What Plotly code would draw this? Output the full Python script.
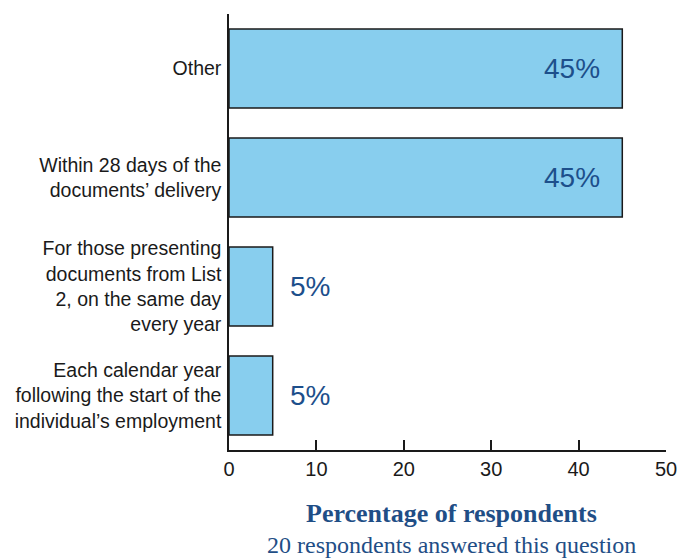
import plotly.graph_objects as go

# Survey responses: timing of repeat right-to-work checks
categories = [
    "Each calendar year<br>following the start of the<br>individual\u2019s employment",
    "For those presenting<br>documents from List<br>2, on the same day<br>every year",
    "Within 28 days of the<br>documents\u2019 delivery",
    "Other",
]
percentages = [5, 5, 45, 45]
x_ticks = [0, 10, 20, 30, 40, 50]

BAR_FILL = "#88CEEE"
LABEL_BLUE = "#1D4F8B"
TITLE_BLUE = "#1F4E86"
SANS = "Liberation Sans, Arial, sans-serif"
SERIF = "Liberation Serif, Times New Roman, serif"

fig = go.Figure()
fig.add_trace(go.Bar(
    x=percentages,
    y=categories,
    orientation="h",
    width=0.725,
    marker=dict(color=BAR_FILL, line=dict(color="#1a1a1a", width=1.5)),
    hoverinfo="skip",
))

# Value labels: inside the bar end for long bars, just past it for short ones
for cat, val in zip(categories, percentages):
    inside = val > 20
    fig.add_annotation(
        x=val, y=cat, xref="x", yref="y",
        text=f"{val}%",
        showarrow=False,
        xanchor="right" if inside else "left",
        xshift=-20 if inside else 15,
        font=dict(family=SANS, size=28, color=LABEL_BLUE),
    )

# Axis title and respondent note below the plot
fig.add_annotation(
    x=0.51, y=-0.145, xref="paper", yref="paper",
    text="<b>Percentage of respondents</b>",
    showarrow=False, xanchor="center", yanchor="middle",
    font=dict(family=SERIF, size=26, color=TITLE_BLUE),
)
fig.add_annotation(
    x=0.51, y=-0.218, xref="paper", yref="paper",
    text="20 respondents answered this question",
    showarrow=False, xanchor="center", yanchor="middle",
    font=dict(family=SERIF, size=24, color=TITLE_BLUE),
)

fig.update_layout(
    width=694, height=558,
    margin=dict(l=229, r=28, t=14, b=108),
    paper_bgcolor="white", plot_bgcolor="white",
    showlegend=False,
    bargap=0.275,
)
fig.update_xaxes(
    range=[0, 50], tickvals=x_ticks, ticktext=[str(t) for t in x_ticks],
    showgrid=False, zeroline=False,
    showline=True, linecolor="#1a1a1a", linewidth=1.5,
    ticks="inside", ticklen=10, tickwidth=1.5, tickcolor="#1a1a1a",
    tickfont=dict(family=SANS, size=20, color="#1a1a1a"),
    fixedrange=True,
)
fig.update_yaxes(
    range=[-0.5, 3.5],
    showgrid=False, zeroline=False,
    showline=True, linecolor="#1a1a1a", linewidth=1.5,
    ticks="", ticklabelstandoff=2,
    tickfont=dict(family=SANS, size=19.5, color="#1a1a1a"),
    fixedrange=True,
)

fig.write_html("out.html")
